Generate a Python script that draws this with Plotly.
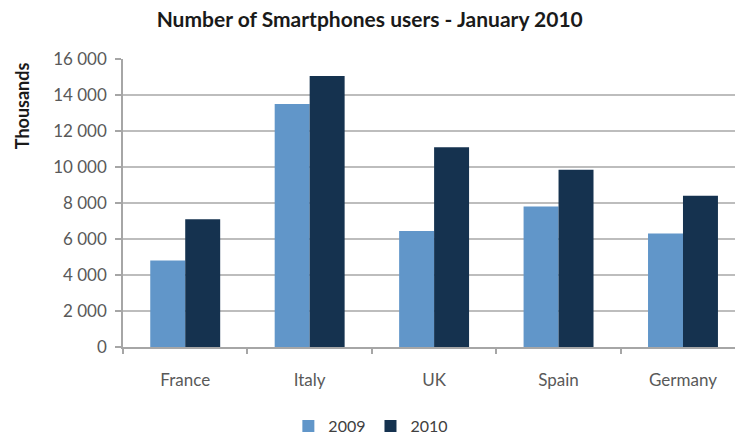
import plotly.graph_objects as go

# Smartphone users (thousands) by country
countries = ["France", "Italy", "UK", "Spain", "Germany"]
users_2009 = [4800, 13500, 6450, 7800, 6300]
users_2010 = [7100, 15050, 11100, 9850, 8400]
y_ticks = [0, 2000, 4000, 6000, 8000, 10000, 12000, 14000, 16000]

LIGHT = "#6196c9"
DARK = "#15324f"
GRID = "#bdbdbd"
AXIS = "#a6a6a6"
LABEL = "#595959"
FONT = "Lato"

fig = go.Figure()
fig.add_trace(go.Bar(name="2009", x=countries, y=users_2009,
                     marker=dict(color=LIGHT, line=dict(width=0))))
fig.add_trace(go.Bar(name="2010", x=countries, y=users_2010,
                     marker=dict(color=DARK, line=dict(width=0))))

fig.update_layout(
    width=735, height=438,
    margin=dict(l=123, r=0, t=59, b=91, autoexpand=False),
    paper_bgcolor="white", plot_bgcolor="white",
    barmode="group", bargap=0.438, bargroupgap=0,
    separators=". ",
    font=dict(family=FONT, color=LABEL, size=17),
    title=dict(text="<b>Number of Smartphones users - January 2010</b>",
               x=0.503, xref="container", xanchor="center",
               y=0.954, yref="container", yanchor="middle",
               font=dict(family=FONT, size=21, color="#1a1a1a")),
    legend=dict(orientation="h", x=0.405, xanchor="center", xref="paper",
                y=0.027, yref="container", yanchor="middle",
                font=dict(family=FONT, size=16, color="#404040"),
                itemwidth=30, tracegroupgap=0),
    showlegend=True,
)

fig.update_xaxes(
    range=[-0.5, 4.418],
    showline=True, linecolor=AXIS, linewidth=1.5,
    ticks="outside", tickson="boundaries", ticklen=5, tickcolor=AXIS,
    tickwidth=1.5, ticklabelstandoff=17,
    tickfont=dict(family=FONT, size=17, color=LABEL),
    showgrid=False, zeroline=False,
)
fig.update_yaxes(
    range=[0, 16000], tickvals=y_ticks, tickformat=",d",
    showline=True, linecolor=AXIS, linewidth=1.5,
    ticks="outside", ticklen=6, tickcolor=AXIS, tickwidth=1.5,
    ticklabelstandoff=5,
    showgrid=True, gridcolor=GRID, gridwidth=1.5,
    zeroline=False,
    tickfont=dict(family=FONT, size=17, color=LABEL),
)

fig.add_annotation(text="<b>Thousands</b>", textangle=-90,
                   xref="paper", yref="paper", x=-0.165, y=0.836,
                   xanchor="center", yanchor="middle", showarrow=False,
                   font=dict(family=FONT, size=18, color="#1a1a1a"))

fig.write_html("out.html")
